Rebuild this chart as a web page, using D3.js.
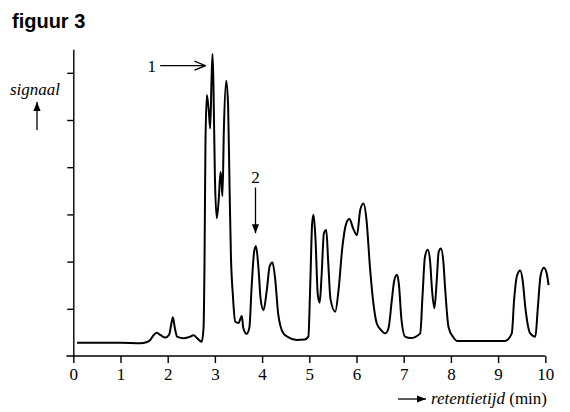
<!DOCTYPE html>
<html>
<head>
<meta charset="utf-8">
<script src="https://cdn.jsdelivr.net/npm/d3@7"></script>
<style>
  body { margin: 0; background: #fff; }
  svg { display: block; }
</style>
</head>
<body>
<svg id="chart" width="570" height="412"></svg>
<script>
  // retention time (min) and signal (arbitrary units)
  const times = [0.08, 0.6, 1.0, 1.42, 1.55, 1.63, 1.7, 1.77, 1.85, 1.95, 2.03, 2.08, 2.11, 2.15, 2.2, 2.34, 2.45, 2.55, 2.62, 2.72,
    2.76, 2.78, 2.8, 2.83, 2.87, 2.9, 2.93, 2.95, 2.97, 3.0, 3.04, 3.08, 3.12, 3.14, 3.16, 3.19, 3.24, 3.28, 3.31, 3.34, 3.38, 3.43,
    3.5, 3.57, 3.6, 3.67, 3.73, 3.78, 3.83, 3.87, 3.92, 3.97, 4.03, 4.1, 4.16, 4.22, 4.28, 4.34, 4.45, 4.55, 4.73, 4.9, 4.98,
    5.02, 5.06, 5.09, 5.13, 5.18, 5.22, 5.26, 5.31, 5.36, 5.4, 5.45, 5.55, 5.62, 5.7, 5.78, 5.85, 5.93, 6.01, 6.08, 6.15, 6.21,
    6.29, 6.36, 6.43, 6.52, 6.61, 6.68, 6.75, 6.8, 6.86, 6.9, 6.95, 7.03, 7.15, 7.35, 7.4, 7.45, 7.51, 7.56, 7.6, 7.65, 7.7,
    7.74, 7.79, 7.84, 7.88, 7.95, 8.05, 8.13, 8.6, 9.15, 9.29, 9.34, 9.4, 9.47, 9.52, 9.58, 9.68, 9.79, 9.84, 9.9, 9.97, 10.03, 10.07];
  const signal = [0.28, 0.28, 0.28, 0.27, 0.29, 0.34, 0.44, 0.49, 0.44, 0.39, 0.45, 0.7, 0.82, 0.6, 0.41, 0.375, 0.4, 0.44, 0.38, 0.3,
    0.6, 2.0, 4.5, 5.53, 5.2, 4.82, 5.9, 6.4, 5.7, 3.8, 2.92, 3.3, 3.9, 3.7, 3.39, 4.8, 5.83, 5.3, 3.6, 2.1, 1.3, 0.73,
    0.7, 0.85, 0.6, 0.47, 0.6, 1.5, 2.2, 2.33, 1.9, 1.2, 0.97, 1.4, 1.9, 1.98, 1.6, 0.9, 0.48, 0.4, 0.34, 0.35, 0.41,
    1.5, 2.8, 2.99, 2.5, 1.3, 1.13, 1.7, 2.6, 2.67, 2.0, 1.2, 0.94, 1.4, 2.3, 2.8, 2.9, 2.7, 2.56, 3.1, 3.23, 2.9,
    1.82, 1.1, 0.69, 0.55, 0.48, 0.6, 1.2, 1.6, 1.72, 1.5, 0.8, 0.41, 0.38, 0.48, 1.3, 2.1, 2.25, 2.0, 1.4, 1.01, 1.6,
    2.2, 2.28, 2.0, 1.4, 0.61, 0.4, 0.32, 0.32, 0.32, 0.48, 1.2, 1.7, 1.81, 1.6, 1.0, 0.48, 0.41, 1.0, 1.7, 1.87, 1.75, 1.5];
  const xTicks = [0, 1, 2, 3, 4, 5, 6, 7, 8, 9, 10];
  const yTicks = [1, 2, 3, 4, 5, 6];

  const svg = d3.select("#chart");
  const serif = "'Liberation Serif', 'Times New Roman', serif";

  const x = d3.scaleLinear().domain([0, 10]).range([73.3, 545.3]);
  const y = d3.scaleLinear().domain([0, 6.5]).range([356, 49.2]);

  const defs = svg.append("defs");
  defs.append("marker")
    .attr("id", "head")
    .attr("viewBox", "0 0 10 10")
    .attr("refX", 10).attr("refY", 5)
    .attr("markerWidth", 9).attr("markerHeight", 9)
    .attr("markerUnits", "userSpaceOnUse")
    .attr("orient", "auto")
    .append("path").attr("d", "M0,1L10,5L0,9Z").attr("fill", "#000");

  defs.append("marker")
    .attr("id", "open")
    .attr("viewBox", "0 0 12 12")
    .attr("refX", 11).attr("refY", 6)
    .attr("markerWidth", 12).attr("markerHeight", 12)
    .attr("markerUnits", "userSpaceOnUse")
    .attr("orient", "auto")
    .append("path").attr("d", "M0,1.5L11,6L0,10.5").attr("fill", "none").attr("stroke", "#000").attr("stroke-width", 1.3);

  // title
  svg.append("text").attr("x", 12).attr("y", 28)
    .attr("font-family", "'Liberation Sans', Arial, sans-serif")
    .attr("font-weight", "bold").attr("font-size", 20)
    .text("figuur 3");

  // axes
  const xAxis = svg.append("g").attr("transform", `translate(0,${y(0)})`)
    .call(d3.axisBottom(x).tickValues(xTicks).tickSize(7).tickSizeOuter(0).tickPadding(5));
  xAxis.select(".domain").attr("d", `M${x(0) - 7},0H${x(10)}`);

  svg.append("g").attr("transform", `translate(${x(0)},0)`)
    .call(d3.axisLeft(y).tickValues(yTicks).tickSize(6).tickSizeOuter(0).tickFormat(""));

  svg.selectAll(".domain, .tick line").attr("stroke", "#000").attr("stroke-width", 1.4);
  xAxis.attr("font-family", serif).attr("font-size", 17);
  xAxis.selectAll("text").attr("fill", "#000");

  // chromatogram
  const pts = times.map((t, i) => [t, signal[i]]);
  svg.append("path")
    .datum(pts)
    .attr("fill", "none")
    .attr("stroke", "#000")
    .attr("stroke-width", 2)
    .attr("stroke-linejoin", "round")
    .attr("d", d3.line().x(d => x(d[0])).y(d => y(d[1])).curve(d3.curveMonotoneX));

  // y label
  svg.append("text").attr("x", 10).attr("y", 95)
    .attr("font-family", serif).attr("font-style", "italic").attr("font-size", 17)
    .text("signaal");
  svg.append("line").attr("x1", 37).attr("y1", 130).attr("x2", 37).attr("y2", 102)
    .attr("stroke", "#000").attr("stroke-width", 1.3).attr("marker-end", "url(#head)");

  // x label
  svg.append("line").attr("x1", 398).attr("y1", 399).attr("x2", 426).attr("y2", 399)
    .attr("stroke", "#000").attr("stroke-width", 1.3).attr("marker-end", "url(#head)");
  const xl = svg.append("text").attr("x", 431).attr("y", 404)
    .attr("font-family", serif).attr("font-size", 17);
  xl.append("tspan").attr("font-style", "italic").text("retentietijd");
  xl.append("tspan").text(" (min)");

  // annotation 1
  svg.append("text").attr("x", x(1.66)).attr("y", y(6.02))
    .attr("font-family", serif).attr("font-size", 17).attr("text-anchor", "middle").text("1");
  svg.append("line").attr("x1", x(1.84)).attr("y1", y(6.15)).attr("x2", x(2.8)).attr("y2", y(6.15))
    .attr("stroke", "#000").attr("stroke-width", 1.3).attr("marker-end", "url(#open)");

  // annotation 2
  svg.append("text").attr("x", x(3.86)).attr("y", y(3.67))
    .attr("font-family", serif).attr("font-size", 17).attr("text-anchor", "middle").text("2");
  svg.append("line").attr("x1", x(3.86)).attr("y1", y(3.57)).attr("x2", x(3.86)).attr("y2", y(2.6))
    .attr("stroke", "#000").attr("stroke-width", 1.3).attr("marker-end", "url(#head)");
</script>
</body>
</html>
